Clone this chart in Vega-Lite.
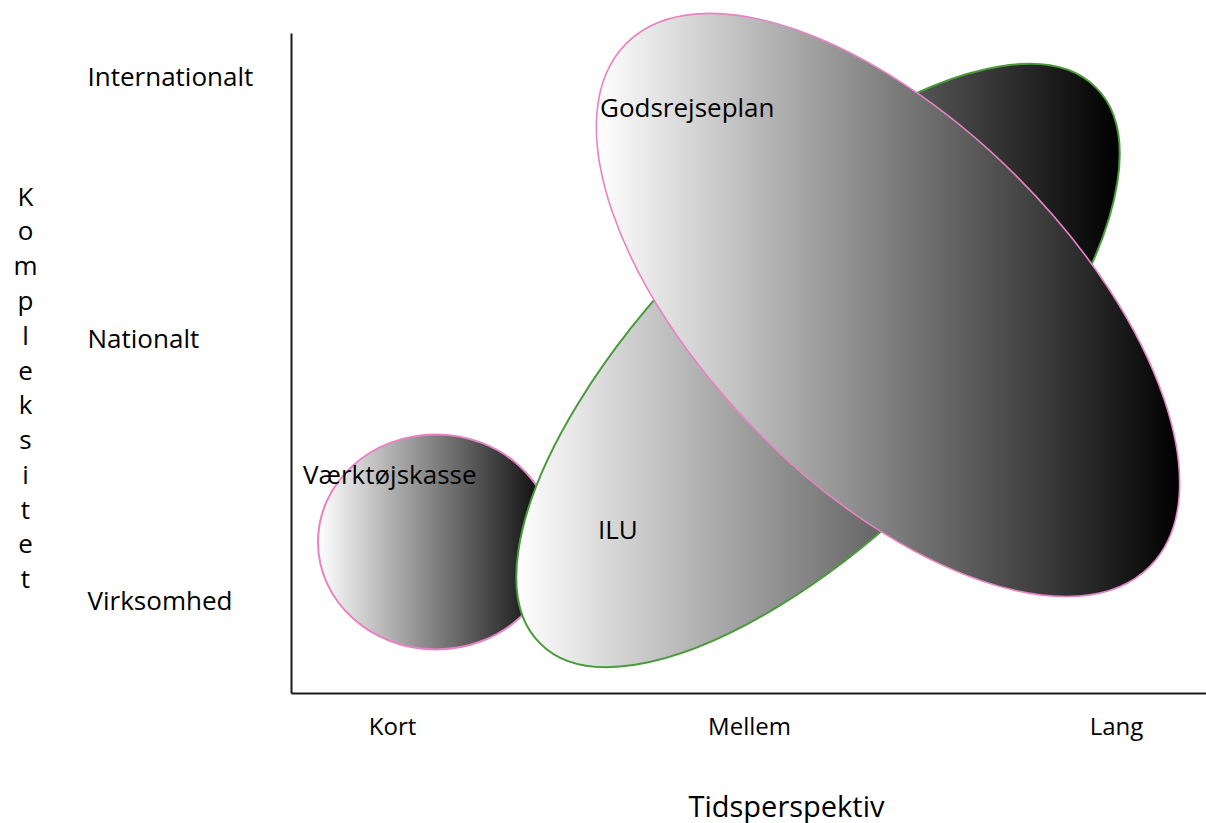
{
  "$schema": "https://vega.github.io/schema/vega-lite/v6.json",
  "width": 915,
  "height": 660,
  "autosize": "none",
  "padding": {"left": 291, "top": 33, "right": 0, "bottom": 130},
  "background": "white",
  "config": {"view": {"stroke": null}, "font": "Open Sans"},
  "datasets": {
    "ellipses": [
      {"name": "Værktøjskasse", "tid": 1.1215, "kompleksitet": 1.2286},
      {"name": "ILU", "tid": 2.1768, "kompleksitet": 1.9010},
      {"name": "Godsrejseplan", "tid": 2.3702, "kompleksitet": 2.1314}
    ],
    "labels": [
      {"label": "Værktøjskasse", "tid": 0.7541, "kompleksitet": 1.48},
      {"label": "ILU", "tid": 1.5691, "kompleksitet": 1.2705},
      {"label": "Godsrejseplan", "tid": 1.5746, "kompleksitet": 2.8781}
    ]
  },
  "layer": [
    {
      "data": {"name": "ellipses"},
      "transform": [{"filter": "datum.name == 'Værktøjskasse'"}],
      "mark": {
        "type": "point",
        "shape": "M -118,0 A 118 107.5 0 1 0 118,0 A 118 107.5 0 1 0 -118,0 Z",
        "size": 4,
        "filled": true,
        "opacity": 1,
        "fill": {"gradient": "linear", "x1": 0, "y1": 0, "x2": 1, "y2": 0, "stops": [{"offset": 0, "color": "#ffffff"}, {"offset": 1, "color": "#000000"}]},
        "stroke": "#e883c3",
        "strokeWidth": 2
      },
      "encoding": {
        "x": {
          "field": "tid", "type": "quantitative",
          "scale": {"domain": [0.72099, 3.24861], "nice": false, "zero": false},
          "axis": {
            "values": [1, 2, 3],
            "labelExpr": "datum.value == 1 ? 'Kort' : datum.value == 2 ? 'Mellem' : 'Lang'",
            "grid": false, "ticks": false, "tickSize": 0,
            "domainColor": "#1a1a1a", "domainWidth": 2,
            "labelFont": "Open Sans", "labelFontSize": 24, "labelColor": "#000000",
            "labelBaseline": "top", "labelPadding": 22, "labelFlush": false,
            "labelOffset": {"condition": {"test": "datum.value == 2", "value": -5}, "value": 0},
            "title": "Tidsperspektiv",
            "titleFont": "Open Sans", "titleFontSize": 29, "titleFontWeight": "normal", "titleColor": "#000000",
            "titleX": 495, "titleY": 123, "titleBaseline": "alphabetic", "titleAlign": "center"
          }
        },
        "y": {
          "field": "kompleksitet", "type": "quantitative",
          "scale": {"domain": [0.65333, 3.16762], "nice": false, "zero": false},
          "axis": {
            "values": [1, 2, 3],
            "labelExpr": "datum.value == 3 ? 'Internationalt' : datum.value == 2 ? 'Nationalt' : 'Virksomhed'",
            "grid": false, "ticks": false, "tickSize": 0,
            "domainColor": "#1a1a1a", "domainWidth": 2,
            "labelFont": "Open Sans", "labelFontSize": 26, "labelColor": "#000000",
            "labelAlign": "left", "labelBaseline": "middle", "labelPadding": 204, "labelLimit": 400, "labelFlush": false,
            "title": ["K", "o", "m", "p", "l", "e", "k", "s", "i", "t", "e", "t"],
            "titleFont": "Open Sans", "titleFontSize": 26, "titleFontWeight": "normal", "titleColor": "#000000",
            "titleAngle": 0, "titleLineHeight": 34.8, "titleAlign": "center", "titleBaseline": "top",
            "titleX": -266, "titleY": 151
          }
        }
      }
    },
    {
      "data": {"name": "ellipses"},
      "transform": [{"filter": "datum.name == 'ILU'"}],
      "mark": {
        "type": "point",
        "shape": "M -277.89,277.89 A 393 164 -45 1 0 277.89,-277.89 A 393 164 -45 1 0 -277.89,277.89 Z",
        "size": 4,
        "filled": true,
        "opacity": 1,
        "fill": {"gradient": "linear", "x1": 0, "y1": 0, "x2": 1, "y2": 0, "stops": [{"offset": 0, "color": "#ffffff"}, {"offset": 1, "color": "#000000"}]},
        "stroke": "#4a9a3c",
        "strokeWidth": 2
      },
      "encoding": {
        "x": {"field": "tid", "type": "quantitative", "scale": {"domain": [0.72099, 3.24861], "nice": false, "zero": false}},
        "y": {"field": "kompleksitet", "type": "quantitative", "scale": {"domain": [0.65333, 3.16762], "nice": false, "zero": false}}
      }
    },
    {
      "data": {"name": "ellipses"},
      "transform": [{"filter": "datum.name == 'Godsrejseplan'"}],
      "mark": {
        "type": "point",
        "shape": "M -261.63,-261.63 A 370 182 45 1 0 261.63,261.63 A 370 182 45 1 0 -261.63,-261.63 Z",
        "size": 4,
        "filled": true,
        "opacity": 1,
        "fill": {"gradient": "linear", "x1": 0, "y1": 0, "x2": 1, "y2": 0, "stops": [{"offset": 0, "color": "#ffffff"}, {"offset": 1, "color": "#000000"}]},
        "stroke": "#e883c3",
        "strokeWidth": 1.6
      },
      "encoding": {
        "x": {"field": "tid", "type": "quantitative", "scale": {"domain": [0.72099, 3.24861], "nice": false, "zero": false}},
        "y": {"field": "kompleksitet", "type": "quantitative", "scale": {"domain": [0.65333, 3.16762], "nice": false, "zero": false}}
      }
    },
    {
      "data": {"name": "labels"},
      "mark": {"type": "text", "align": "left", "baseline": "middle", "font": "Open Sans", "fontSize": 26, "color": "#000000"},
      "encoding": {
        "x": {"field": "tid", "type": "quantitative", "scale": {"domain": [0.72099, 3.24861], "nice": false, "zero": false}},
        "y": {"field": "kompleksitet", "type": "quantitative", "scale": {"domain": [0.65333, 3.16762], "nice": false, "zero": false}},
        "text": {"field": "label", "type": "nominal"}
      }
    }
  ]
}
